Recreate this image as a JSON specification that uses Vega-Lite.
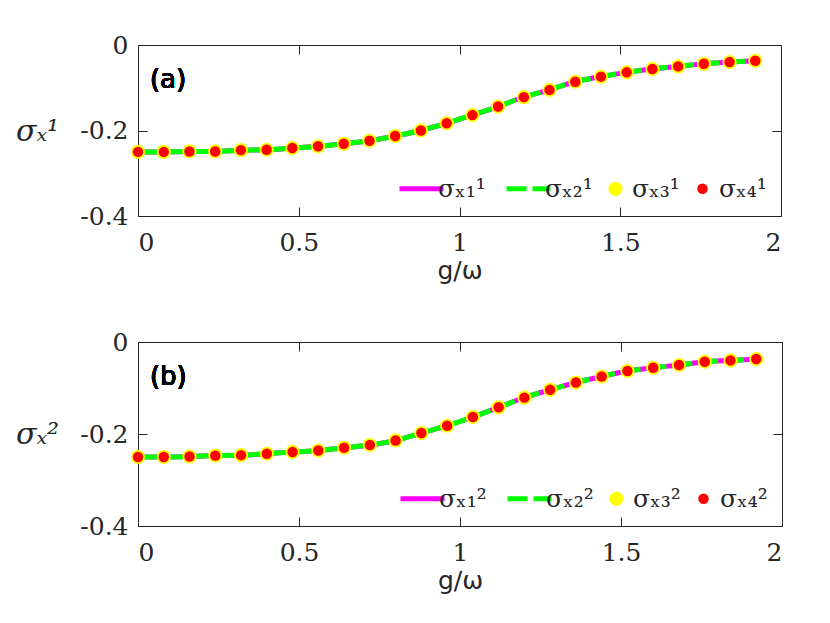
{
  "$schema": "https://vega.github.io/schema/vega-lite/v6.json",
  "background": "white",
  "padding": {"left": 14, "top": 32, "right": 10, "bottom": 5},
  "spacing": 45,
  "config": {
    "view": {"stroke": "#262626", "strokeWidth": 1},
    "axis": {"grid": false, "domain": false, "tickColor": "#262626", "labelColor": "#262626", "titleColor": "#262626", "labelFont": "DejaVu Serif", "labelFontSize": 25, "tickSize": -9, "titleFontWeight": "normal"}
  },
  "datasets": {
    "a": [
      {"g": 0, "v": -0.25}, {"g": 0.08, "v": -0.25}, {"g": 0.16, "v": -0.249}, {"g": 0.24, "v": -0.249}, {"g": 0.32, "v": -0.246},
      {"g": 0.40, "v": -0.245}, {"g": 0.48, "v": -0.241}, {"g": 0.56, "v": -0.237}, {"g": 0.64, "v": -0.231}, {"g": 0.72, "v": -0.224},
      {"g": 0.80, "v": -0.213}, {"g": 0.88, "v": -0.2}, {"g": 0.96, "v": -0.183}, {"g": 1.04, "v": -0.164}, {"g": 1.12, "v": -0.144},
      {"g": 1.20, "v": -0.122}, {"g": 1.28, "v": -0.105}, {"g": 1.36, "v": -0.086}, {"g": 1.44, "v": -0.074}, {"g": 1.52, "v": -0.064},
      {"g": 1.60, "v": -0.056}, {"g": 1.68, "v": -0.05}, {"g": 1.76, "v": -0.044}, {"g": 1.84, "v": -0.04}, {"g": 1.92, "v": -0.037}
    ],
    "b": [
      {"g": 0, "v": -0.25}, {"g": 0.08, "v": -0.25}, {"g": 0.16, "v": -0.249}, {"g": 0.24, "v": -0.247}, {"g": 0.32, "v": -0.246},
      {"g": 0.40, "v": -0.243}, {"g": 0.48, "v": -0.239}, {"g": 0.56, "v": -0.236}, {"g": 0.64, "v": -0.23}, {"g": 0.72, "v": -0.224},
      {"g": 0.80, "v": -0.214}, {"g": 0.88, "v": -0.198}, {"g": 0.96, "v": -0.182}, {"g": 1.04, "v": -0.163}, {"g": 1.12, "v": -0.142},
      {"g": 1.20, "v": -0.121}, {"g": 1.28, "v": -0.104}, {"g": 1.36, "v": -0.088}, {"g": 1.44, "v": -0.075}, {"g": 1.52, "v": -0.063},
      {"g": 1.60, "v": -0.056}, {"g": 1.68, "v": -0.05}, {"g": 1.76, "v": -0.043}, {"g": 1.84, "v": -0.04}, {"g": 1.92, "v": -0.037}
    ]
  },
  "resolve": {"scale": {"color": "independent"}, "legend": {"color": "independent"}},
  "vconcat": [
    {
      "width": 643, "height": 171,
      "data": {"name": "a"},
      "resolve": {"axis": {"x": "independent", "y": "independent"}},
      "layer": [
        {
          "mark": {"type": "line", "strokeWidth": 5, "interpolate": "monotone"},
          "encoding": {
            "x": {"field": "g", "type": "quantitative", "scale": {"domain": [0, 2]}, "axis": {"orient": "bottom", "values": [0, 0.5, 1, 1.5, 2], "labelExpr": "'' + datum.value", "labelPadding": 23, "title": "g/ω", "titleFont": "DejaVu Sans", "titleFontSize": 25, "titlePadding": 3}},
            "y": {"field": "v", "type": "quantitative", "scale": {"domain": [-0.4, 0]}, "axis": {"orient": "left", "values": [-0.4, -0.2, 0], "labelExpr": "'' + datum.value", "labelPadding": 19, "title": "σₓ¹", "titleFont": "DejaVu Serif", "titleFontSize": 30, "titleFontStyle": "italic", "titleAngle": 0, "titleAlign": "center", "titleBaseline": "middle", "titleX": -101, "titleY": 86}},
            "color": {"datum": "σₓ₁¹", "type": "nominal",
              "scale": {"domain": ["σₓ₁¹", "σₓ₂¹", "σₓ₃¹", "σₓ₄¹"], "range": ["#FF00FF", "#00FF00", "#FFFF00", "#FF0000"]},
              "legend": {"title": null, "orient": "bottom-right", "direction": "horizontal", "offset": 14, "padding": 0, "labelFont": "DejaVu Serif", "labelFontSize": 25, "labelColor": "#262626", "labelOffset": 4, "columnPadding": 10, "symbolSize": 1936,
                "encode": {"symbols": {"update": {
                  "shape": {"signal": "datum.index < 2 ? 'stroke' : 'circle'"},
                  "size": {"signal": "datum.index < 2 ? 1936 : (datum.index == 2 ? 200 : 110)"},
                  "strokeWidth": {"signal": "datum.index < 2 ? 5 : 0"},
                  "strokeDash": {"signal": "datum.index == 1 ? [20, 6] : [1, 0]"},
                  "stroke": {"signal": "['#FF00FF', '#00FF00', '#FFFF00', '#FF0000'][datum.index]"},
                  "fill": {"signal": "['#FF00FF', '#00FF00', '#FFFF00', '#FF0000'][datum.index]"},
                  "opacity": {"value": 1}
                }}}}
            }
          }
        },
        {
          "mark": {"type": "line", "strokeWidth": 5, "strokeDash": [20, 6], "interpolate": "monotone"},
          "encoding": {
            "x": {"field": "g", "type": "quantitative", "axis": {"orient": "top", "values": [0, 0.5, 1, 1.5, 2], "labels": false, "title": null}},
            "y": {"field": "v", "type": "quantitative", "axis": {"orient": "right", "values": [-0.4, -0.2, 0], "labels": false, "title": null}},
            "color": {"datum": "σₓ₂¹", "type": "nominal"}
          }
        },
        {
          "mark": {"type": "point", "filled": true, "size": 200, "opacity": 1},
          "encoding": {
            "x": {"field": "g", "type": "quantitative", "axis": null},
            "y": {"field": "v", "type": "quantitative", "axis": null},
            "color": {"datum": "σₓ₃¹", "type": "nominal"}
          }
        },
        {
          "mark": {"type": "point", "filled": true, "size": 110, "opacity": 1},
          "encoding": {
            "x": {"field": "g", "type": "quantitative", "axis": null},
            "y": {"field": "v", "type": "quantitative", "axis": null},
            "color": {"datum": "σₓ₄¹", "type": "nominal"}
          }
        },
        {
          "mark": {"type": "text", "text": "(a)", "font": "DejaVu Sans", "fontWeight": "normal", "fontSize": 26, "align": "left", "baseline": "middle", "color": "black"},
          "encoding": {
            "x": {"datum": 0.037, "type": "quantitative", "axis": null},
            "y": {"datum": -0.082, "type": "quantitative", "axis": null}
          }
        }
      ]
    },
    {
      "width": 644, "height": 184,
      "data": {"name": "b"},
      "resolve": {"axis": {"x": "independent", "y": "independent"}},
      "layer": [
        {
          "mark": {"type": "line", "strokeWidth": 5, "interpolate": "monotone"},
          "encoding": {
            "x": {"field": "g", "type": "quantitative", "scale": {"domain": [0, 2]}, "axis": {"orient": "bottom", "values": [0, 0.5, 1, 1.5, 2], "labelExpr": "'' + datum.value", "labelPadding": 23, "title": "g/ω", "titleFont": "DejaVu Sans", "titleFontSize": 25, "titlePadding": 3}},
            "y": {"field": "v", "type": "quantitative", "scale": {"domain": [-0.4, 0]}, "axis": {"orient": "left", "values": [-0.4, -0.2, 0], "labelExpr": "'' + datum.value", "labelPadding": 19, "title": "σₓ²", "titleFont": "DejaVu Serif", "titleFontSize": 30, "titleFontStyle": "italic", "titleAngle": 0, "titleAlign": "center", "titleBaseline": "middle", "titleX": -101, "titleY": 92}},
            "color": {"datum": "σₓ₁²", "type": "nominal",
              "scale": {"domain": ["σₓ₁²", "σₓ₂²", "σₓ₃²", "σₓ₄²"], "range": ["#FF00FF", "#00FF00", "#FFFF00", "#FF0000"]},
              "legend": {"title": null, "orient": "bottom-right", "direction": "horizontal", "offset": 14, "padding": 0, "labelFont": "DejaVu Serif", "labelFontSize": 25, "labelColor": "#262626", "labelOffset": 4, "columnPadding": 10, "symbolSize": 1936,
                "encode": {"symbols": {"update": {
                  "shape": {"signal": "datum.index < 2 ? 'stroke' : 'circle'"},
                  "size": {"signal": "datum.index < 2 ? 1936 : (datum.index == 2 ? 200 : 110)"},
                  "strokeWidth": {"signal": "datum.index < 2 ? 5 : 0"},
                  "strokeDash": {"signal": "datum.index == 1 ? [20, 6] : [1, 0]"},
                  "stroke": {"signal": "['#FF00FF', '#00FF00', '#FFFF00', '#FF0000'][datum.index]"},
                  "fill": {"signal": "['#FF00FF', '#00FF00', '#FFFF00', '#FF0000'][datum.index]"},
                  "opacity": {"value": 1}
                }}}}
            }
          }
        },
        {
          "mark": {"type": "line", "strokeWidth": 5, "strokeDash": [20, 6], "interpolate": "monotone"},
          "encoding": {
            "x": {"field": "g", "type": "quantitative", "axis": {"orient": "top", "values": [0, 0.5, 1, 1.5, 2], "labels": false, "title": null}},
            "y": {"field": "v", "type": "quantitative", "axis": {"orient": "right", "values": [-0.4, -0.2, 0], "labels": false, "title": null}},
            "color": {"datum": "σₓ₂²", "type": "nominal"}
          }
        },
        {
          "mark": {"type": "point", "filled": true, "size": 200, "opacity": 1},
          "encoding": {
            "x": {"field": "g", "type": "quantitative", "axis": null},
            "y": {"field": "v", "type": "quantitative", "axis": null},
            "color": {"datum": "σₓ₃²", "type": "nominal"}
          }
        },
        {
          "mark": {"type": "point", "filled": true, "size": 110, "opacity": 1},
          "encoding": {
            "x": {"field": "g", "type": "quantitative", "axis": null},
            "y": {"field": "v", "type": "quantitative", "axis": null},
            "color": {"datum": "σₓ₄²", "type": "nominal"}
          }
        },
        {
          "mark": {"type": "text", "text": "(b)", "font": "DejaVu Sans", "fontWeight": "normal", "fontSize": 26, "align": "left", "baseline": "middle", "color": "black"},
          "encoding": {
            "x": {"datum": 0.037, "type": "quantitative", "axis": null},
            "y": {"datum": -0.076, "type": "quantitative", "axis": null}
          }
        }
      ]
    }
  ]
}
